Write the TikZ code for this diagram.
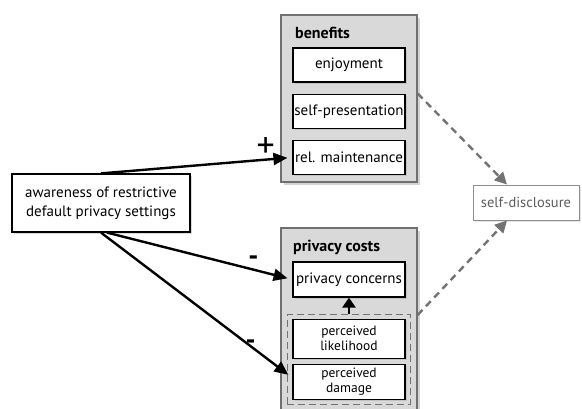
\documentclass[tikz,border=0pt]{standalone}
\usepackage{fontspec}
\setmainfont{PT Sans}
\usepackage{xcolor}
\definecolor{cFrame}{HTML}{707070}
\definecolor{cGroup}{HTML}{D9D9D9}
\definecolor{cDash}{HTML}{737373}
\definecolor{cSoft}{HTML}{5E5E5E}
\usetikzlibrary{positioning,arrows.meta,fit,shadows}
\tikzset{
  group-box/.style={draw=cFrame,line width=1.3pt,fill=cGroup,
    minimum width=136pt,inner sep=0pt,
    drop shadow={opacity=0.35,shadow xshift=3pt,shadow yshift=-3pt}},
  group-label/.style={anchor=west,inner sep=0pt,
    font=\fontsize{16}{18}\selectfont\bfseries},
  item-box/.style={draw=black,line width=1.2pt,fill=white,
    minimum width=112pt,minimum height=34pt,inner sep=1pt,align=center,
    font=\fontsize{15}{16}\selectfont,
    drop shadow={opacity=0.25,shadow xshift=1.5pt,shadow yshift=-1.5pt}},
  item-small/.style={item-box,font=\fontsize{13.5}{15}\selectfont},
  source-box/.style={draw=black,line width=1.2pt,fill=white,
    minimum width=178pt,minimum height=58pt,align=center,
    font=\fontsize{15}{19}\selectfont,
    drop shadow={opacity=0.3,shadow xshift=2pt,shadow yshift=-2pt}},
  target-box/.style={draw=cFrame!80,line width=1pt,fill=white,text=cSoft,
    minimum width=106pt,minimum height=35pt,
    font=\fontsize{14.5}{16}\selectfont,
    drop shadow={opacity=0.2,shadow xshift=2pt,shadow yshift=-2pt}},
  dash-frame/.style={draw=cDash,dashed,dash pattern=on 7pt off 4pt,
    line width=1pt,inner xsep=5pt,inner ysep=4pt},
  sign/.style={font=\fontsize{28}{28}\selectfont\bfseries,inner sep=1pt},
  sign-plus/.style={sign,font=\fontsize{36}{36}\selectfont},
  arrow-main/.style={-{Triangle[length=14pt,width=12pt]},line width=2.4pt,
    draw=black,shorten >=5pt},
  arrow-dashed/.style={-{Triangle[length=12pt,width=12pt]},line width=2.4pt,
    draw=cDash,dash pattern=on 7pt off 5pt},
  arrow-up/.style={-{Triangle[length=10pt,width=13pt]},line width=2.8pt,
    draw=black},
}
\begin{document}
\begin{tikzpicture}[x=1pt,y=-1pt,node distance=11pt]
  \useasboundingbox (0,0) rectangle (582,408);
  % groups
  \node[group-box,minimum height=167pt] (benefits) at (349,98.5) {};
  \node[group-box,minimum height=184pt] (costs) at (349,320) {};
  \node[group-label] at (295,33) {benefits};
  \node[group-label] at (293,247) {privacy costs};
  % benefits
  \node[item-box] (enjoy) at (349,65) {enjoyment};
  \node[item-box,below=of enjoy] (selfpres) {self-presentation};
  \node[item-box,below=of selfpres] (relmaint) {rel. maintenance};
  % privacy costs
  \node[item-box,minimum height=35pt] (concerns) at (349,279.5) {privacy concerns};
  \node[item-small,minimum height=39pt,below=21pt of concerns]
    (likelihood) {perceived\\likelihood};
  \node[item-small,minimum height=35pt,below=5pt of likelihood]
    (damage) {perceived\\damage};
  \node[dash-frame,fit=(likelihood)(damage)] (risk) {};
  % outer nodes
  \node[source-box] (aware) at (101,203)
    {awareness of restrictive\\default privacy settings};
  \node[target-box] (disclosure) at (526,202.5) {self-disclosure};
  % paths
  \draw[arrow-main] (aware.north) -- node[sign-plus,pos=0.86,above=0pt]{+} (relmaint.west);
  \draw[arrow-main] ([xshift=6pt]aware.south) -- node[sign,pos=0.79,above=2pt]{-} (concerns.west);
  \draw[arrow-main] (aware.south) -- node[sign,pos=0.82,above left=0pt and 0pt]{-} ([yshift=4pt]damage.west);
  \draw[arrow-up] (risk.north) -- (concerns.south);
  \draw[arrow-dashed] ([yshift=5pt]benefits.east) -- ([xshift=-19pt]disclosure.north);
  \draw[arrow-dashed] ([yshift=5pt]costs.east) -- ([xshift=-19pt]disclosure.south);
\end{tikzpicture}
\end{document}
